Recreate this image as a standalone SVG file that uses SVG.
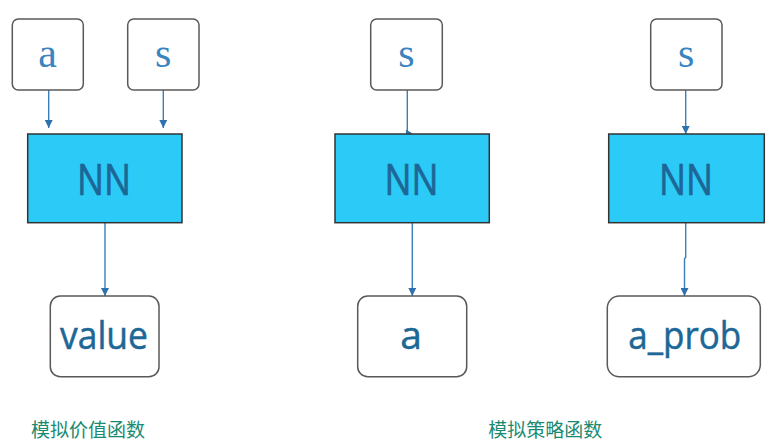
<svg xmlns="http://www.w3.org/2000/svg" width="769" height="445" viewBox="0 0 769 445">
<defs>
<style>
.box{fill:#ffffff;stroke:#595959;stroke-width:1.5}
.nn{fill:#2ccaf7;stroke:#333333;stroke-width:1.5}
.nnt{font-family:"Open Sans","Liberation Sans",sans-serif;font-size:43px;fill:#1d6796;stroke:#1d6796;stroke-width:0.7;text-anchor:middle}
.ser{font-family:"Liberation Serif",serif;font-size:42px;fill:#3a84c0;text-anchor:middle}
.out{font-family:"Open Sans","Liberation Sans",sans-serif;font-size:39px;fill:#1d6796;stroke:#1d6796;stroke-width:0.5;text-anchor:middle}
.cap{font-family:"Noto Sans CJK SC",sans-serif;font-size:19px;fill:#1a8a72}
.ln{fill:none;stroke:#3a7fb8;stroke-width:1.4}
.ah{fill:#2e72ad}
</style>
<marker id="arr" viewBox="0 0 10 10" refX="10" refY="5" markerWidth="8" markerHeight="8" markerUnits="userSpaceOnUse" orient="auto">
<path d="M0,0 L10,5 L0,10 Z" class="ah"/>
</marker>
</defs>
<rect width="769" height="445" fill="#ffffff"/>

<g id="connectors">
<line class="ln" x1="48.7" y1="90" x2="48.7" y2="128" marker-end="url(#arr)"/>
<line class="ln" x1="163.3" y1="90" x2="163.3" y2="128" marker-end="url(#arr)"/>
<line class="ln" x1="105" y1="223" x2="105" y2="296" marker-end="url(#arr)"/>
<line class="ln" x1="407.3" y1="90" x2="407.3" y2="134"/>
<path class="ah" d="M406,129.5 L412.5,133.5 L406,137 Z"/>
<line class="ln" x1="412.3" y1="223" x2="412.3" y2="296" marker-end="url(#arr)"/>
<line class="ln" x1="685.7" y1="90" x2="685.7" y2="134" marker-end="url(#arr)"/>
<path class="ln" d="M685.7,223 L685.7,257.7 L684.5,258.5 L684.5,296" marker-end="url(#arr)"/>
</g>

<g id="in-a">
<rect class="box" x="12.3" y="19" width="71" height="71" rx="6"/>
<text class="ser" x="47.5" y="67">a</text>
</g>
<g id="in-s1">
<rect class="box" x="127.7" y="19" width="71.3" height="71" rx="6"/>
<text class="ser" x="163.3" y="67">s</text>
</g>
<g id="nn1">
<rect class="nn" x="27.7" y="134" width="154.3" height="88.7"/>
<text class="nnt" x="104" y="195" textLength="54" lengthAdjust="spacingAndGlyphs">NN</text>
</g>
<g id="out-value">
<rect class="box" x="50.3" y="296" width="108.7" height="80.7" rx="10"/>
<text class="out" x="104" y="349" textLength="88" lengthAdjust="spacingAndGlyphs">value</text>
</g>
<g id="cap1">
<text class="cap" x="31" y="437">模拟价值函数</text>
</g>

<g id="in-s2">
<rect class="box" x="370.7" y="19" width="71.6" height="71" rx="6"/>
<text class="ser" x="406.5" y="67">s</text>
</g>
<g id="nn2">
<rect class="nn" x="335" y="134" width="154.3" height="88.7"/>
<text class="nnt" x="411.5" y="195" textLength="54" lengthAdjust="spacingAndGlyphs">NN</text>
</g>
<g id="out-a">
<rect class="box" x="357.7" y="296" width="109" height="80.7" rx="10"/>
<text class="out" x="411" y="349">a</text>
</g>

<g id="in-s3">
<rect class="box" x="650.7" y="19" width="71.3" height="71" rx="6"/>
<text class="ser" x="686.3" y="67">s</text>
</g>
<g id="nn3">
<rect class="nn" x="608.7" y="134" width="155.6" height="88.7"/>
<text class="nnt" x="686" y="195" textLength="54" lengthAdjust="spacingAndGlyphs">NN</text>
</g>
<g id="out-aprob">
<rect class="box" x="607.3" y="296" width="153" height="80.7" rx="12"/>
<text class="out" x="684.7" y="349" textLength="113" lengthAdjust="spacingAndGlyphs">a_prob</text>
</g>
<g id="cap2">
<text class="cap" x="488.3" y="437">模拟策略函数</text>
</g>
</svg>
